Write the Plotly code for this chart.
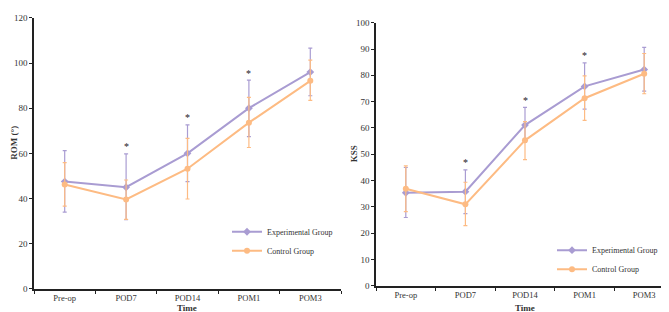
import plotly.graph_objects as go

categories = ["Pre-op", "POD7", "POD14", "POM1", "POM3"]

# ROM (left panel)
rom_exp = [47.5, 45.0, 60.0, 80.0, 96.0]
rom_exp_up = [61.2, 59.8, 72.6, 92.4, 106.6]
rom_exp_lo = [34.0, 30.6, 47.5, 67.4, 85.5]
rom_ctl = [46.2, 39.6, 53.2, 73.6, 92.1]
rom_ctl_up = [55.9, 48.2, 66.6, 84.8, 101.3]
rom_ctl_lo = [36.6, 30.8, 39.8, 62.6, 83.5]
rom_sig = [False, True, True, True, False]

# KSS (right panel)
kss_exp = [35.4, 35.8, 61.1, 75.8, 82.2]
kss_exp_up = [45.0, 44.1, 67.8, 84.7, 90.6]
kss_exp_lo = [26.0, 27.5, 54.5, 67.2, 74.0]
kss_ctl = [36.9, 31.0, 55.3, 71.3, 80.6]
kss_ctl_up = [45.6, 39.4, 62.4, 79.8, 88.3]
kss_ctl_lo = [28.2, 22.9, 48.0, 62.9, 73.0]
kss_sig = [False, True, True, True, False]

PURPLE = "#A99CD2"
ORANGE = "#FDBB83"
FONT = "Liberation Serif"

fig = go.Figure()

def add_series(x_ax, y_ax, vals, up, lo, color, name, symbol, legend):
    fig.add_trace(go.Scatter(
        x=categories, y=vals, name=name, mode="lines+markers",
        xaxis=x_ax, yaxis=y_ax, legend=legend,
        line=dict(color=color, width=2),
        marker=dict(color=color, size=6, symbol=symbol),
        error_y=dict(type="data", symmetric=False,
                     array=[u - v for u, v in zip(up, vals)],
                     arrayminus=[v - l for v, l in zip(vals, lo)],
                     color=color, thickness=1.2, width=2),
    ))

add_series("x", "y", rom_exp, rom_exp_up, rom_exp_lo, PURPLE, "Experimental Group", "diamond", "legend")
add_series("x", "y", rom_ctl, rom_ctl_up, rom_ctl_lo, ORANGE, "Control Group", "circle", "legend")
add_series("x2", "y2", kss_exp, kss_exp_up, kss_exp_lo, PURPLE, "Experimental Group", "diamond", "legend2")
add_series("x2", "y2", kss_ctl, kss_ctl_up, kss_ctl_lo, ORANGE, "Control Group", "circle", "legend2")

annotations = []
for xa, ya, sig, up in (("x", "y", rom_sig, rom_exp_up), ("x2", "y2", kss_sig, kss_exp_up)):
    for c, s, u in zip(categories, sig, up):
        if s:
            annotations.append(dict(x=c, y=u, xref=xa, yref=ya, text="*", showarrow=False,
                                    yshift=7, font=dict(family=FONT, size=10, color="#222")))

title_font = dict(family=FONT, size=9, color="#333")
annotations += [
    dict(x=179 / 669, y=1 - 312 / 312, xref="paper", yref="paper", text="<b>Time</b>",
         xanchor="center", yanchor="bottom", showarrow=False, font=title_font),
    dict(x=517 / 669, y=1 - 312 / 312, xref="paper", yref="paper", text="<b>Time</b>",
         xanchor="center", yanchor="bottom", showarrow=False, font=title_font),
    dict(x=6 / 669, y=1 - 134 / 312, xref="paper", yref="paper", text="<b>ROM (°)</b>",
         xanchor="center", yanchor="middle", textangle=-90, showarrow=False, font=title_font),
    dict(x=346 / 669, y=1 - 146 / 312, xref="paper", yref="paper", text="<b>KSS</b>",
         xanchor="center", yanchor="middle", textangle=-90, showarrow=False, font=title_font),
]

xcommon = dict(type="category", range=[-0.5, 4.5], tickson="boundaries", ticks="outside",
               ticklen=3, tickcolor="#222", showline=True, linecolor="#222", linewidth=1.5,
               showgrid=False, zeroline=False, tickfont=dict(family=FONT, size=8.5, color="#333"))
ycommon = dict(ticks="outside", ticklen=3, tickcolor="#222", showline=True, linecolor="#222",
               linewidth=1.5, showgrid=False, zeroline=False,
               tickfont=dict(family=FONT, size=9, color="#333"))

legend_common = dict(font=dict(family=FONT, size=8, color="#333"), bgcolor="rgba(0,0,0,0)",
                     tracegroupgap=0, itemwidth=30, xanchor="left", yanchor="top")

fig.update_layout(
    width=669, height=312, margin=dict(l=0, r=0, t=0, b=0),
    paper_bgcolor="white", plot_bgcolor="white", showlegend=True,
    xaxis=dict(domain=[26 / 669, 333 / 669], anchor="y", **xcommon),
    yaxis=dict(domain=[1 - 285 / 312, 1 - 5 / 312], range=[0, 120], dtick=20, anchor="x", **ycommon),
    xaxis2=dict(domain=[368 / 669, 666 / 669], anchor="y2", **xcommon),
    yaxis2=dict(domain=[1 - 282 / 312, 1 - 10 / 312], range=[0, 100], dtick=10, anchor="x2", **ycommon),
    legend=dict(x=219 / 669, y=1 - 211 / 312, **legend_common),
    legend2=dict(x=544 / 669, y=1 - 230 / 312, **legend_common),
    annotations=annotations,
)

fig.write_html("out.html")
